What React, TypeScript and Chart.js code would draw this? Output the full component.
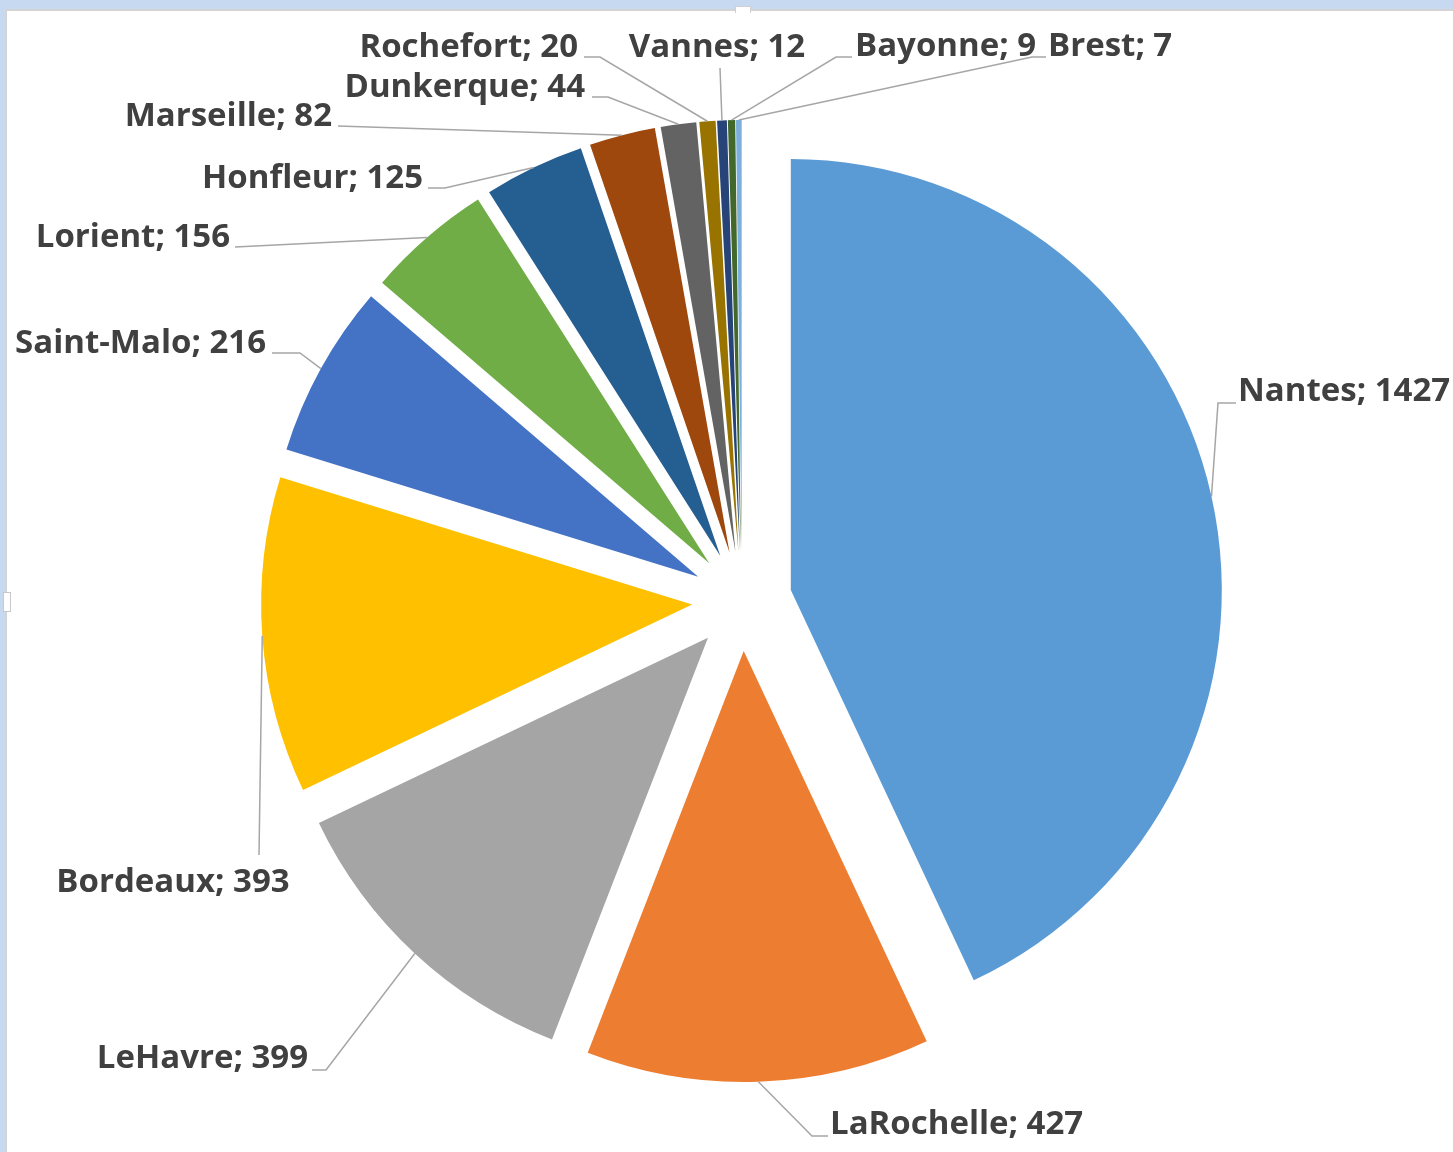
import React, { useEffect, useRef } from "react";
import { Chart, registerables } from "chart.js";

Chart.register(...registerables);

// ---- data ----
const ports = [
  "Nantes", "LaRochelle", "LeHavre", "Bordeaux", "Saint-Malo", "Lorient", "Honfleur",
  "Marseille", "Dunkerque", "Rochefort", "Vannes", "Bayonne", "Brest",
];
const counts = [1427, 427, 399, 393, 216, 156, 125, 82, 44, 20, 12, 9, 7];

// ---- styles ----
const sliceColors = [
  "#5B9BD5", "#ED7D31", "#A5A5A5", "#FFC000", "#4472C4", "#70AD47", "#255E91",
  "#9E480E", "#636363", "#997300", "#264478", "#43682B", "#7CAFDD",
];

const EXPLODE = 50;
const RADIUS = 431;
const LABEL_FONT = "bold 33px 'Open Sans'";
const LABEL_COLOR = "#404040";
const LEADER_COLOR = "#A6A6A6";

// label layout: text anchor, alignment, leader-line points (from label toward slice)
type Layout = { x: number; y: number; align: CanvasTextAlign; path: number[][] };
const labelLayout: Layout[] = [
  { x: 1238, y: 392, align: "left", path: [[1236, 403], [1218, 403]] },
  { x: 830, y: 1125, align: "left", path: [[828, 1136], [812, 1136]] },
  { x: 308, y: 1059, align: "right", path: [[312, 1070], [326, 1070]] },
  { x: 173, y: 883, align: "center", path: [[259, 855]] },
  { x: 266, y: 344, align: "right", path: [[272, 353], [300, 353]] },
  { x: 230, y: 238, align: "right", path: [[235, 247]] },
  { x: 423, y: 179, align: "right", path: [[428, 188], [445, 188]] },
  { x: 332, y: 117, align: "right", path: [[338, 126]] },
  { x: 585, y: 88, align: "right", path: [[592, 97], [608, 97]] },
  { x: 578, y: 48, align: "right", path: [[584, 57], [600, 57]] },
  { x: 717, y: 48, align: "center", path: [[720, 68]] },
  { x: 855, y: 47, align: "left", path: [[852, 57], [836, 57]] },
  { x: 1048, y: 47, align: "left", path: [[1046, 57], [1032, 57]] },
];

const explodePlugin = {
  id: "explode",
  afterDatasetsUpdate(chart: any) {
    const meta = chart.getDatasetMeta(0);
    meta.data.forEach((arc: any) => {
      const mid = (arc.startAngle + arc.endAngle) / 2;
      arc.x += Math.cos(mid) * EXPLODE;
      arc.y += Math.sin(mid) * EXPLODE;
    });
  },
};

const labelPlugin = {
  id: "pieLabels",
  afterDraw(chart: any) {
    const ctx = chart.ctx as CanvasRenderingContext2D;
    const meta = chart.getDatasetMeta(0);
    ctx.save();
    meta.data.forEach((arc: any, i: number) => {
      const lay = labelLayout[i];
      if (!lay) return;
      const mid = (arc.startAngle + arc.endAngle) / 2;
      const ax = arc.x + Math.cos(mid) * arc.outerRadius;
      const ay = arc.y + Math.sin(mid) * arc.outerRadius;
      ctx.strokeStyle = LEADER_COLOR;
      ctx.lineWidth = 1.5;
      ctx.beginPath();
      lay.path.forEach((p, k) => (k === 0 ? ctx.moveTo(p[0], p[1]) : ctx.lineTo(p[0], p[1])));
      ctx.lineTo(ax, ay);
      ctx.stroke();

      ctx.font = LABEL_FONT;
      ctx.fillStyle = LABEL_COLOR;
      ctx.textAlign = lay.align;
      ctx.textBaseline = "middle";
      ctx.fillText(`${chart.data.labels[i]}; ${chart.data.datasets[0].data[i]}`, lay.x, lay.y);
    });
    ctx.restore();
  },
};

export default function App() {
  const ref = useRef<HTMLCanvasElement | null>(null);

  useEffect(() => {
    if (!ref.current) return;
    const chart = new Chart(ref.current, {
      type: "pie",
      data: {
        labels: ports,
        datasets: [
          {
            data: counts,
            backgroundColor: sliceColors,
            borderWidth: 0,
            hoverOffset: 0,
            offset: 0,
          },
        ],
      },
      options: {
        responsive: false,
        animation: false,
        events: [],
        radius: RADIUS,
        layout: { padding: { left: 31, top: 50, right: 0, bottom: 0 } },
        plugins: {
          legend: { display: false },
          tooltip: { enabled: false },
          title: { display: false },
        },
      } as any,
      plugins: [explodePlugin, labelPlugin],
    });
    return () => chart.destroy();
  }, []);

  return (
    <div
      style={{
        position: "fixed",
        left: 0,
        top: 0,
        width: 1453,
        height: 1152,
        background: "#C6D9F0",
        overflow: "hidden",
      }}
    >
      <div
        style={{
          position: "absolute",
          left: 5,
          top: 9,
          right: 0,
          bottom: 0,
          background: "#FFFFFF",
          borderTop: "2px solid #D4D4D4",
          borderLeft: "2px solid #D4D4D4",
        }}
      />
      <div
        style={{
          position: "absolute",
          left: 735,
          top: 6,
          width: 14,
          height: 6,
          background: "#FFFFFF",
          border: "1px solid #D0D0D0",
          borderBottom: "none",
        }}
      />
      <div
        style={{
          position: "absolute",
          left: 3,
          top: 592,
          width: 6,
          height: 18,
          background: "#FFFFFF",
          border: "1px solid #C8C8C8",
        }}
      />
      <canvas
        ref={ref}
        width={1453}
        height={1152}
        style={{ position: "absolute", left: 0, top: 0, width: 1453, height: 1152 }}
      />
    </div>
  );
}
